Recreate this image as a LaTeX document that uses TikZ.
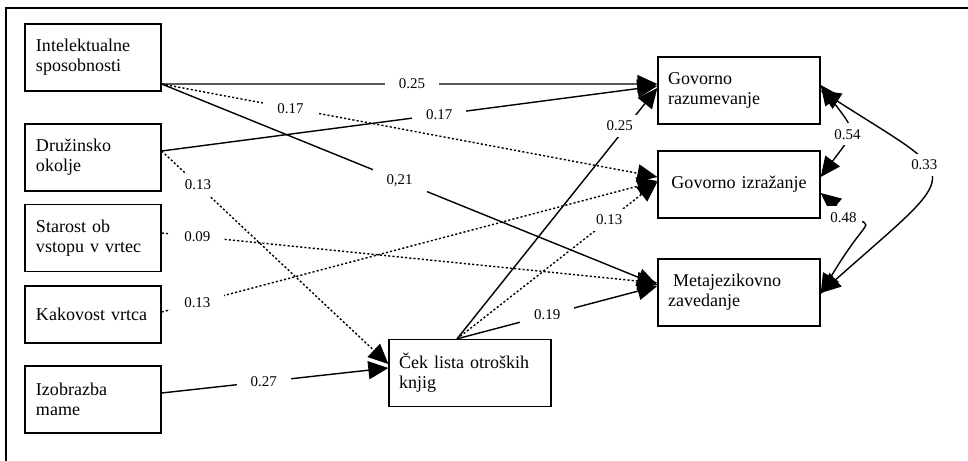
\documentclass[tikz,border=0pt]{standalone}
\usepackage{fontspec}
\setmainfont{Liberation Serif}
\usetikzlibrary{arrows.meta}

\begin{document}
\begin{tikzpicture}
[x=0.2mm,y=-0.2mm,
  boxdecorate/.style={shape=rectangle,draw,line width=0.75pt,minimum width=27.2mm,%
    minimum height=13.4mm,inner xsep=2.2mm,text width=22.8mm,align=left,%
    font=\fontsize{10.25}{11.4}\selectfont},%
  widebox/.style={boxdecorate,minimum width=32.4mm,inner xsep=2mm,text width=28.4mm},%
  solidedge/.style={-{Triangle[length=4mm,width=3.6mm]},line width=0.8pt},%
  dottededge/.style={solidedge,line width=0.8pt,dash pattern=on 1.2pt off 1.2pt},%
  bothways/.style={{Triangle[length=4mm,width=3.6mm]}-{Triangle[length=4mm,width=3.6mm]},line width=0.8pt},%
  weight/.style={fill=white,inner xsep=2.8mm,inner ysep=1.2mm,font=\fontsize{8.5}{10}\selectfont}]
\useasboundingbox (0,0) rectangle (968,461);
\draw[line width=0.9pt] (6,461) -- (6,8) -- (968,8);
%% nodes or vertices
\foreach \nodename/\x/\y/\nodetext in {intel/93/57.5/{Intelektualne\\sposobnosti},
  druz/93/157.5/{Družinsko\\okolje}, star/93/238/{Starost ob\\vstopu v vrtec},
  izo/93/399.5/{Izobrazba\\mame}}
{
  \node (\nodename) at (\x,\y) [boxdecorate] {\nodetext};
}
\node (kak) at (93,314.5) [boxdecorate,minimum height=11.4mm] {Kakovost vrtca};
\foreach \nodename/\x/\y/\nodetext in {gr/739/90.5/{Govorno\\razumevanje},
  mz/739/292.5/{\hspace*{1mm}Metajezikovno\\zavedanje}, cek/470/373/{Ček lista otroških\\knjig}}
{
  \node (\nodename) at (\x,\y) [widebox] {\nodetext};
}
\node (gi) at (739,184.5) [widebox,align=center] {Govorno izražanje};
%% edges or lines
\path
  ([yshift=-5.3mm]intel.east) edge[solidedge] node[weight,pos=0.505] {0.25} ([yshift=1.3mm]gr.west)
  ([yshift=-5.3mm]intel.east) edge[dottededge] node[weight,pos=0.26] {0.17} ([yshift=1.5mm]gi.west)
  ([yshift=-5.3mm]intel.east) edge[solidedge] node[weight,pos=0.48] {0,21} ([yshift=1.5mm]mz.west)
  ([yshift=1.3mm]druz.east) edge[solidedge] node[weight,pos=0.56] {0.17} ([yshift=0.9mm]gr.west)
  ([yshift=1.3mm]druz.east) edge[dottededge] node[weight,pos=0.16] {0.13} ([yshift=1.8mm]cek.west)
  ([yshift=1mm]star.east) edge[dottededge] node[weight,pos=0.072] {0.09} ([yshift=1.9mm]mz.west)
  ([yshift=0.5mm]kak.east) edge[dottededge] node[weight,pos=0.072] {0.13} ([yshift=0.7mm]gi.west)
  ([yshift=1.3mm]izo.east) edge[solidedge] node[weight,pos=0.45] {0.27} ([yshift=1mm]cek.west)
  ([xshift=-2.6mm]cek.north) edge[solidedge] node[weight,pos=0.85,xshift=-1.5mm] {0.25} ([yshift=0.5mm]gr.west)
  ([xshift=-2.6mm]cek.north) edge[dottededge] node[weight,pos=0.76] {0.13} ([yshift=0.5mm]gi.west)
  ([xshift=-2.6mm]cek.north) edge[solidedge] node[weight,pos=0.45] {0.19} ([yshift=1.3mm]mz.west);
%% correlations
\draw[bothways] ([yshift=1.1mm]gr.east) .. controls +(36,48) and +(36,-48) .. ([yshift=1.5mm]gi.east)
  node[weight,inner xsep=1mm,pos=0.55] {0.54};
\draw[bothways] (gr.east) .. controls +(144,92) and +(144,-128) .. ([yshift=-0.1mm]mz.east)
  node[weight,inner xsep=1mm,pos=0.4] {0.33};
\draw[bothways] ([yshift=-1.7mm]gi.east) .. controls +(56,46) and +(56,-94) .. ([yshift=-0.3mm]mz.east)
  node[weight,inner xsep=1mm,pos=0.3,xshift=-2.5mm] {0.48};
\end{tikzpicture}
\end{document}
